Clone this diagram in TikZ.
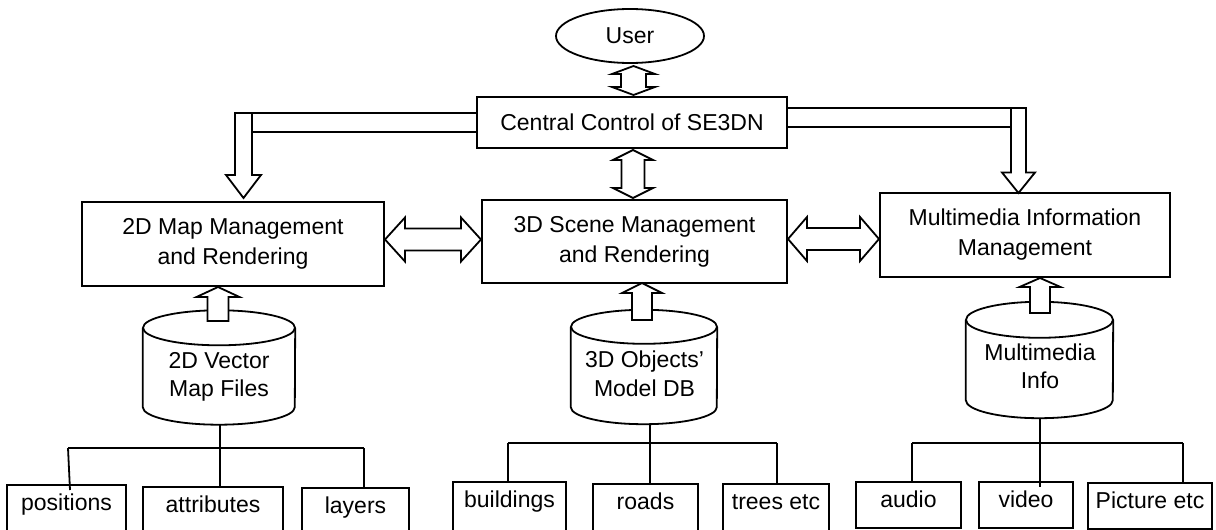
\documentclass[tikz,border=0pt]{standalone}
\usepackage{fontspec}
\setmainfont{Liberation Sans}
\usetikzlibrary{shapes.geometric,calc}
% vertical double block arrow: x, ytop, ybottom, shaft half, head half, head length
\newcommand\myvdarr[6]{%
\draw[blk] (#1,#2) -- ({#1+#5},{#2+#6}) -- ({#1+#4},{#2+#6}) -- ({#1+#4},{#3-#6}) -- ({#1+#5},{#3-#6}) -- (#1,#3) -- ({#1-#5},{#3-#6}) -- ({#1-#4},{#3-#6}) -- ({#1-#4},{#2+#6}) -- ({#1-#5},{#2+#6}) -- cycle;}
% horizontal double block arrow: y, xleft, xright, shaft half, head half, head length
\newcommand\myhdarr[6]{%
\draw[blk] (#2,#1) -- ({#2+#6},{#1-#5}) -- ({#2+#6},{#1-#4}) -- ({#3-#6},{#1-#4}) -- ({#3-#6},{#1-#5}) -- (#3,#1) -- ({#3-#6},{#1+#5}) -- ({#3-#6},{#1+#4}) -- ({#2+#6},{#1+#4}) -- ({#2+#6},{#1+#5}) -- cycle;}
% single block arrow, vertical: x, ytip, yheadbase, yend, shaft half, head half
\newcommand\myvarr[6]{%
\draw[blk] (#1,#2) -- ({#1+#6},#3) -- ({#1+#5},#3) -- ({#1+#5},#4) -- ({#1-#5},#4) -- ({#1-#5},#3) -- ({#1-#6},#3) -- cycle;}
\begin{document}
\begin{tikzpicture}[x=1pt,y=-1pt,
  ln/.style={line width=1.8pt},
  blk/.style={line width=1.8pt, fill=white, line join=miter},
  box/.style={draw, line width=1.8pt, rectangle, inner sep=0pt, align=center, font=\fontsize{23}{30}\selectfont},
  cylbody/.style={rectangle, draw=none, inner sep=0pt},
  cyltext/.style={align=center, inner sep=0pt, font=\fontsize{23}{28.5}\selectfont},
  leaf/.style={draw, line width=1.8pt, rectangle, anchor=north, inner xsep=0pt, inner ysep=9pt, minimum height=0pt, text height=17pt, font=\fontsize{23}{28}\selectfont},
  leafopen/.style={leaf, text depth=40pt},
  leafclosed/.style={leaf, text depth=11pt}]

\useasboundingbox (0,0) rectangle (1216,530);
\fill[white] (0,0) rectangle (1216,530);
\clip (0,0) rectangle (1216,530);

% ---- main nodes
\node[draw, ellipse, line width=1.8pt, minimum width=148pt, minimum height=54pt, inner sep=0pt, font=\fontsize{23}{28}\selectfont] (user) at (630,36) {User};
\node[box, minimum width=310pt, minimum height=51pt] (central) at (632,122.5) {Central Control of SE3DN};
\node[box, minimum width=302pt, minimum height=84pt] (map2d) at (233,244) {2D Map Management\\and Rendering};
\node[box, minimum width=305pt, minimum height=83pt] (scene3d) at (634.5,241.5) {3D Scene Management\\and Rendering};
\node[box, minimum width=290pt, minimum height=84pt] (mminfo) at (1025,235) {Multimedia Information\\Management};

% ---- cylinders
\node[cylbody, minimum width=152pt, minimum height=79pt] (cyl1) at (219,367.5) {};
\node[cylbody, minimum width=146pt, minimum height=80pt] (cyl2) at (644,367) {};
\node[cylbody, minimum width=147pt, minimum height=80pt] (cyl3) at (1039.5,360) {};
\draw[ln, fill=white] (cyl1.north west) -- (cyl1.south west) arc[start angle=180, end angle=360, x radius=76pt, y radius=17.5pt] -- (cyl1.north east);
\draw[ln, fill=white] (cyl1.north) ellipse[x radius=76pt, y radius=17.5pt];
\draw[ln, fill=white] (cyl2.north west) -- (cyl2.south west) arc[start angle=180, end angle=360, x radius=73pt, y radius=17pt] -- (cyl2.north east);
\draw[ln, fill=white] (cyl2.north) ellipse[x radius=73pt, y radius=17pt];
\draw[ln, fill=white] (cyl3.north west) -- (cyl3.south west) arc[start angle=180, end angle=360, x radius=73.5pt, y radius=18pt] -- (cyl3.north east);
\draw[ln, fill=white] (cyl3.north) ellipse[x radius=73.5pt, y radius=18pt];
\node[cyltext] (cyl1t) at (219,377) {2D Vector\\Map Files};
\node[cyltext] (cyl2t) at (644.5,374) {3D Objects’\\Model DB};
\node[cyltext] (cyl3t) at (1040,366.5) {Multimedia\\Info};

% ---- leaf boxes
\node[leafopen, minimum width=119pt] (pos) at (66.5,484) {positions};
\node[leafopen, minimum width=140pt] (attr) at (213,486) {attributes};
\node[leafopen, minimum width=107pt] (lay) at (355.5,487) {layers};
\node[leafopen, minimum width=113pt] (bld) at (509.5,481) {buildings};
\node[leafopen, minimum width=105pt] (road) at (645.5,483) {roads};
\node[leafopen, minimum width=106pt] (tree) at (776,483) {trees etc};
\node[leafclosed, minimum width=105pt] (aud) at (908.5,481) {audio};
\node[leafclosed, minimum width=94pt] (vid) at (1026,481) {video};
\node[leafclosed, minimum width=124pt] (pic) at (1150,482) {Picture etc};

% ---- tree connectors
\coordinate (c1b) at ([xshift=1pt,yshift=-17.5pt]cyl1.south);
\coordinate (j1L) at (68,448);
\coordinate (j1R) at (364,448);
\draw[ln] (c1b) -- (c1b |- attr.north);
\draw[ln] (j1L) -- (j1R);
\draw[ln] (j1L) -- ([xshift=3.5pt,yshift=-6pt]pos.north);
\draw[ln] (j1R) -- (j1R |- lay.north);

\coordinate (c2b) at ([xshift=6pt,yshift=-16.5pt]cyl2.south);
\coordinate (j2L) at (508,443);
\coordinate (j2R) at (777,443);
\draw[ln] (c2b) -- (c2b |- road.north);
\draw[ln] (j2L) -- (j2R);
\draw[ln] (j2L) -- (j2L |- bld.north);
\draw[ln] (j2R) -- (j2R |- tree.north);

\coordinate (c3b) at ([xshift=0.5pt,yshift=-17.5pt]cyl3.south);
\coordinate (j3L) at (912,443);
\coordinate (j3R) at (1183,443);
\draw[ln] (c3b) -- ([yshift=-6pt]c3b |- vid.north);
\draw[ln] (j3L) -- (j3R);
\draw[ln] (j3L) -- (j3L |- aud.north);
\draw[ln] (j3R) -- (j3R |- pic.north);

% ---- block arrows
\myvdarr{633.5}{66}{95}{12.5}{21.5}{8}
\myvdarr{633}{150}{198}{11.5}{20}{10}
\myhdarr{239.5}{385}{481}{11}{22}{20}
\myhdarr{239}{788}{879}{11}{22}{19}
\myvarr{218}{287}{297}{321}{10.5}{21.5}
\myvarr{642}{283}{293}{320}{10}{20}
\myvarr{1040}{278}{287}{313}{10}{20.5}

% L-shaped arrow to 2D map
\draw[blk] ([yshift=9.5pt]central.west) -- (243.5,113) -- (243.5,132) -- ([yshift=-9.5pt]central.west);
\draw[blk] (235,113) -- (252,113) -- (252,175) -- (261,175) -- (243.5,198) -- (226,175) -- (235,175) -- cycle;
% L-shaped arrow to multimedia
\draw[blk] ([yshift=14.5pt]central.east) -- (1018.5,108) -- (1018.5,127) -- ([yshift=-4.5pt]central.east);
\draw[blk] (1011,108) -- (1026,108) -- (1026,172.5) -- (1035,172.5) -- (1018.5,193) -- (1002,172.5) -- (1011,172.5) -- cycle;

\end{tikzpicture}
\end{document}
